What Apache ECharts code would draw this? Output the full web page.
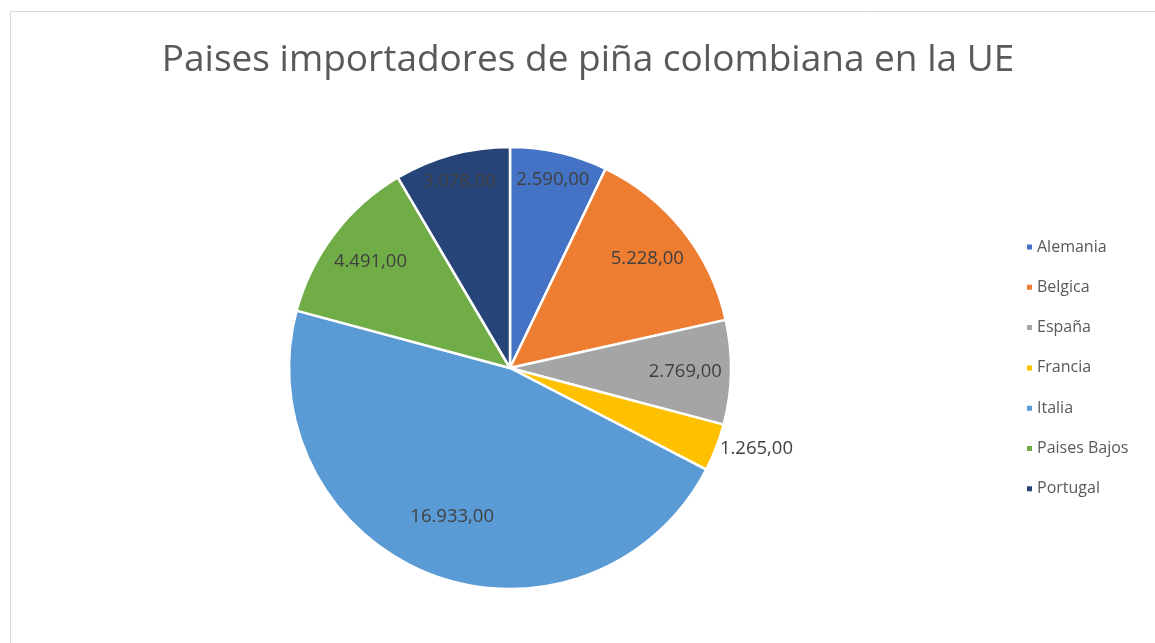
<!DOCTYPE html>
<html>
<head>
<meta charset="utf-8">
<script src="https://cdn.jsdelivr.net/npm/echarts@6/dist/echarts.min.js"></script>
<style>
html,body{margin:0;padding:0;background:#fff;}
#chart{width:1155px;height:643px;}
</style>
</head>
<body>
<div id="chart"></div>
<script>
const title = 'Paises importadores de piña colombiana en la UE';
const categories = ['Alemania', 'Belgica', 'España', 'Francia', 'Italia', 'Paises Bajos', 'Portugal'];
const values = [2590, 5228, 2769, 1265, 16933, 4491, 3078];
const colors = ['#4472C4', '#ED7D31', '#A5A5A5', '#FFC000', '#5B9BD5', '#70AD47', '#264478'];

// label placement style per slice: 'outside', 'outer' ring, 'mid' ring, 'deep' ring
const labelPlacement = ['outer', 'mid', 'mid', 'outside', 'deep', 'mid', 'outer'];

function fmt(v) {
  const s = Math.round(v).toString().replace(/\B(?=(\d{3})+(?!\d))/g, '.');
  return s + ',00';
}

const chart = echarts.init(document.getElementById('chart'), null, {renderer: 'canvas'});
const center = [510, 368];
const R = 221;
const labelFont = {fontFamily: 'Open Sans', fontSize: 18.5, color: '#404040'};

function overlay(kind, innerFrac) {
  return {
    type: 'pie',
    center: center,
    radius: [R * innerFrac, R],
    clockwise: true,
    startAngle: 90,
    silent: true,
    data: categories.map((c, i) => ({
      name: c,
      value: values[i],
      label: {show: labelPlacement[i] === kind}
    })),
    itemStyle: {color: 'rgba(0,0,0,0)', borderWidth: 0},
    label: Object.assign({position: 'inside', formatter: p => fmt(p.value)}, labelFont),
    labelLine: {show: false},
    emphasis: {disabled: true},
    legendHoverLink: false
  };
}

chart.setOption({
  animation: false,
  title: {
    text: title,
    left: 583,
    textAlign: 'center',
    top: 37,
    textStyle: {fontFamily: 'Open Sans', fontWeight: 'normal', fontSize: 37, color: '#595959'}
  },
  legend: {
    orient: 'vertical',
    left: 1020,
    top: 234,
    icon: 'rect',
    itemWidth: 7,
    itemHeight: 7,
    itemGap: 24.3,
    data: categories,
    textStyle: {fontFamily: 'Open Sans', fontSize: 16, color: '#595959', padding: [0, 0, 0, -1]}
  },
  graphic: [{
    type: 'rect',
    shape: {x: 10.5, y: 11.5, width: 1200, height: 700},
    style: {fill: 'none', stroke: '#d9d9d9', lineWidth: 1},
    silent: true
  }],
  series: [
    {
      type: 'pie',
      center: center,
      radius: [0, R],
      clockwise: true,
      startAngle: 90,
      data: categories.map((c, i) => ({
        name: c,
        value: values[i],
        itemStyle: {color: colors[i]},
        label: {show: labelPlacement[i] === 'outside'}
      })),
      itemStyle: {borderColor: '#ffffff', borderWidth: 2.5},
      label: Object.assign({position: 'outside', formatter: p => fmt(p.value), distanceToLabelLine: 0}, labelFont),
      labelLine: {show: false, length: 4, length2: 0},
      emphasis: {disabled: true}
    },
    overlay('outer', 0.72),
    overlay('mid', 0.56),
    overlay('deep', 0.42)
  ]
});
</script>
</body>
</html>
